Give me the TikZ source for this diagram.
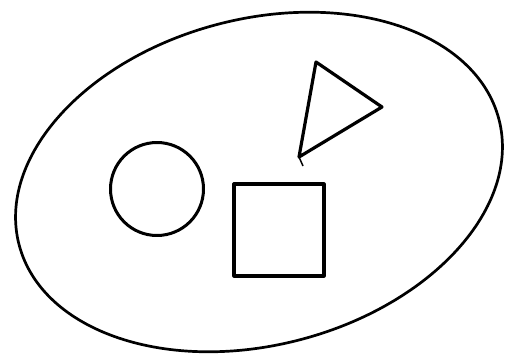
\documentclass[tikz,border=0pt]{standalone}
\usepackage{tikz}
\usetikzlibrary{positioning}
\begin{document}
\begin{tikzpicture}[x=1pt,y=-1pt,line join=round]
\useasboundingbox (0,0) rectangle (507,356);
% the set
\draw[line width=2.7pt,rotate around={14.7:(259,182)}] (259,182) ellipse (248pt and 163pt);
% the members
\draw[line width=3pt] (157,189) circle (46.5pt);
\draw[line width=3.2pt] (234,184) rectangle (324,276);
\coordinate (t1) at (316,62); \coordinate (t2) at (382,107); \coordinate (t3) at (299,157);
\draw[line width=3.2pt] (t1) -- (t2) -- (t3) -- cycle;
\draw[line width=1.5pt] (t3) -- (303,166);
\end{tikzpicture}
\end{document}
